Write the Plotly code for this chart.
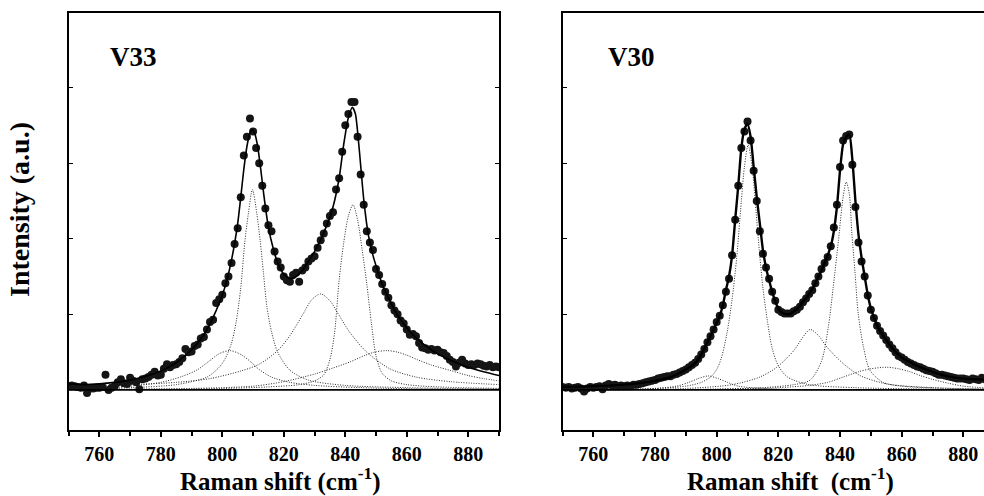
import plotly.graph_objects as go

# ---------------- data ----------------
raman_x = list(range(750, 891))

v33_data = [
    0.05, 0.06, 0.05, 0.04, 0.03, 0.06, -0.04, 0.02, 0.02, 0.03,
    0.03, 0.04, 0.20, 0.00, 0.03, 0.05, 0.10, 0.14, 0.09, 0.08,
    0.16, 0.12, 0.10, 0.01, 0.14, 0.15, 0.17, 0.20, 0.24, 0.19,
    0.20, 0.28, 0.34, 0.30, 0.33, 0.34, 0.37, 0.42, 0.54, 0.50,
    0.51, 0.58, 0.60, 0.68, 0.70, 0.80, 0.90, 0.93, 1.15, 1.20,
    1.26, 1.41, 1.50, 1.68, 1.93, 2.14, 2.55, 3.10, 3.35, 3.59,
    3.42, 3.20, 3.00, 2.70, 2.40, 2.18, 2.10, 1.83, 1.70, 1.62,
    1.50, 1.45, 1.43, 1.52, 1.55, 1.43, 1.58, 1.62, 1.70, 1.74,
    1.77, 1.88, 1.98, 2.07, 2.20, 2.30, 2.35, 2.65, 2.80, 3.15,
    3.50, 3.65, 3.81, 3.81, 3.35, 2.85, 2.45, 2.10, 1.95, 1.85,
    1.60, 1.52, 1.40, 1.30, 1.22, 1.12, 1.05, 1.00, 0.92, 0.88,
    0.80, 0.73, 0.74, 0.71, 0.62, 0.56, 0.55, 0.53, 0.54, 0.52,
    0.53, 0.50, 0.49, 0.45, 0.40, 0.37, 0.31, 0.36, 0.40, 0.35,
    0.33, 0.34, 0.33, 0.35, 0.34, 0.32, 0.31, 0.33, 0.30, 0.31, 0.30,
]

v30_data = [
    0.04, 0.03, 0.04, 0.02, 0.03, 0.04, 0.02, -0.02, 0.02, 0.04,
    0.03, 0.04, 0.05, 0.01, 0.06, 0.08, 0.06, 0.07, 0.05, 0.06,
    0.05, 0.06, 0.05, 0.07, 0.07, 0.08, 0.09, 0.10, 0.11, 0.12,
    0.13, 0.15, 0.16, 0.17, 0.18, 0.18, 0.20, 0.21, 0.23, 0.25,
    0.27, 0.30, 0.33, 0.36, 0.41, 0.47, 0.54, 0.63, 0.71, 0.80,
    0.90, 0.98, 1.12, 1.30, 1.47, 1.78, 2.25, 2.70, 3.20, 3.42,
    3.55, 3.30, 2.90, 2.50, 2.10, 1.80, 1.62, 1.47, 1.30, 1.18,
    1.06, 1.03, 1.01, 1.01, 1.01, 1.04, 1.06, 1.10, 1.16, 1.21,
    1.27, 1.32, 1.41, 1.50, 1.60, 1.68, 1.76, 1.90, 2.15, 2.45,
    2.95, 3.30, 3.36, 3.38, 2.98, 2.42, 1.95, 1.70, 1.50, 1.25,
    1.06, 0.95, 0.85, 0.78, 0.72, 0.66, 0.60, 0.55, 0.50, 0.45,
    0.43, 0.40, 0.37, 0.35, 0.33, 0.31, 0.30, 0.28, 0.26, 0.25,
    0.24, 0.22, 0.20, 0.20, 0.19, 0.18, 0.17, 0.16, 0.15, 0.15,
    0.15, 0.14, 0.13, 0.15, 0.14, 0.13, 0.16, 0.14, 0.13, 0.14, 0.13,
]

# fitted envelope (solid line)
v33_fit_x = [750, 755, 760, 765, 770, 775, 780, 785, 790, 794, 797, 799, 801, 803, 805, 806,
             807, 808, 809, 809.8, 810.5, 811.5, 812.5, 813.5, 815, 816.5, 818, 820, 822, 824,
             826, 828, 830, 832, 834, 836, 838, 839.5, 841, 842.3, 843.3, 844.5, 846, 847.5,
             849, 850.5, 852, 854, 856, 858, 860, 863, 866, 870, 875, 880, 885, 890]
v33_fit_y = [0.08, 0.07, 0.08, 0.10, 0.13, 0.18, 0.25, 0.36, 0.53, 0.73, 0.96, 1.15, 1.38, 1.72,
             2.20, 2.55, 2.92, 3.22, 3.40, 3.44, 3.40, 3.22, 2.92, 2.58, 2.15, 1.88, 1.68, 1.53,
             1.47, 1.50, 1.58, 1.70, 1.83, 1.99, 2.18, 2.42, 2.80, 3.25, 3.60, 3.74, 3.65, 3.20,
             2.52, 2.05, 1.78, 1.58, 1.40, 1.22, 1.06, 0.93, 0.82, 0.69, 0.59, 0.48, 0.38, 0.30,
             0.24, 0.19]

v30_fit_x = [750, 760, 770, 780, 785, 790, 793, 795, 797, 799, 801, 802, 803, 804, 805, 806,
             807, 808, 809, 810, 811, 812, 813, 814, 815, 816, 817, 818, 819, 820, 821, 822,
             823, 824, 825, 826, 827, 828, 829, 830, 831, 832, 833, 834, 835, 836, 837, 838,
             839, 840, 841, 842, 843, 844, 845, 846, 847, 848, 849, 850, 851, 852, 853, 855,
             857, 860, 863, 866, 870, 875, 880, 885, 890]
v30_fit_y = [0.04, 0.05, 0.07, 0.12, 0.17, 0.27, 0.35, 0.47, 0.63, 0.80, 0.98, 1.12, 1.32, 1.50,
             1.78, 2.25, 2.70, 3.20, 3.45, 3.52, 3.35, 2.95, 2.55, 2.20, 1.85, 1.62, 1.45, 1.30,
             1.17, 1.08, 1.03, 1.01, 1.00, 1.01, 1.04, 1.07, 1.11, 1.17, 1.21, 1.27, 1.33, 1.41,
             1.50, 1.58, 1.68, 1.78, 1.90, 2.10, 2.42, 2.90, 3.25, 3.35, 3.38, 3.05, 2.50, 2.05,
             1.75, 1.50, 1.26, 1.08, 0.96, 0.86, 0.78, 0.66, 0.55, 0.43, 0.36, 0.30, 0.24, 0.18,
             0.15, 0.14, 0.13]

# fitted component bands (dotted lines) - V33
v33_c1_x = [750, 770, 785, 795, 799, 801, 803, 804.5, 806, 807.3, 808.5, 809.8, 811.2, 812.3,
            813.4, 814.5, 816, 818, 822, 828, 840, 860, 890]
v33_c1_y = [0.01, 0.03, 0.07, 0.17, 0.30, 0.42, 0.62, 0.90, 1.35, 1.95, 2.34, 2.65, 2.34, 1.98,
            1.54, 1.10, 0.77, 0.50, 0.26, 0.13, 0.06, 0.03, 0.01]
v33_c2_x = [750, 800, 815, 825, 830, 833, 835, 836.5, 838, 839.5, 841, 842.5, 844, 845.5, 847,
            848.5, 850, 852, 855, 860, 870, 890]
v33_c2_y = [0.00, 0.02, 0.04, 0.07, 0.12, 0.20, 0.40, 0.75, 1.45, 1.95, 2.30, 2.45, 2.25, 1.85,
            1.40, 0.88, 0.45, 0.22, 0.12, 0.07, 0.04, 0.02]
v33_c3_x = [750, 770, 785, 796, 806, 812, 818, 822, 826.5, 829, 832, 835, 837.5, 841.5, 847,
            854.5, 863, 874, 890]
v33_c3_y = [0.05, 0.07, 0.10, 0.15, 0.25, 0.34, 0.52, 0.72, 1.02, 1.19, 1.27, 1.18, 1.02, 0.76,
            0.50, 0.28, 0.17, 0.11, 0.07]
v33_c4_x = [750, 770, 780, 787, 792, 796, 799, 802.5, 806, 809, 812, 816, 822, 830, 845, 870, 890]
v33_c4_y = [0.01, 0.05, 0.10, 0.18, 0.27, 0.39, 0.48, 0.52, 0.47, 0.38, 0.27, 0.17, 0.10, 0.06,
            0.03, 0.01, 0.01]
v33_c5_x = [750, 790, 810, 820, 830, 836, 841.5, 846, 849.5, 853.5, 857, 860, 863.5, 868, 874,
            880, 885, 890]
v33_c5_y = [0.005, 0.02, 0.05, 0.11, 0.21, 0.29, 0.37, 0.45, 0.50, 0.52, 0.50, 0.46, 0.40, 0.33,
            0.26, 0.19, 0.15, 0.12]

# fitted component bands (dotted lines) - V30
v30_c1_x = [750, 775, 790, 795, 798, 800, 801.5, 803.3, 805, 806.5, 808, 809, 810.2, 811.5,
            812.5, 813.5, 815, 816.5, 818, 820, 823, 830, 845, 870, 890]
v30_c1_y = [0.00, 0.01, 0.05, 0.10, 0.17, 0.27, 0.42, 0.74, 1.20, 1.75, 2.50, 2.95, 3.24, 2.95,
            2.50, 2.00, 1.35, 0.90, 0.55, 0.32, 0.17, 0.07, 0.03, 0.01, 0.00]
v30_c2_x = [750, 800, 815, 825, 830.3, 834, 836.2, 837.8, 839.5, 841, 842, 843, 843.8, 844.9,
            845.9, 847.6, 849.7, 854, 860, 875, 890]
v30_c2_y = [0.00, 0.01, 0.03, 0.07, 0.13, 0.38, 0.83, 1.36, 1.98, 2.55, 2.75, 2.60, 2.10, 1.54,
            1.01, 0.57, 0.26, 0.10, 0.05, 0.02, 0.01]
v30_c3_x = [750, 790, 805, 814, 819.5, 825, 828, 830.3, 833, 835.7, 841, 846.5, 855, 870, 890]
v30_c3_y = [0.00, 0.02, 0.07, 0.17, 0.30, 0.52, 0.70, 0.80, 0.72, 0.57, 0.35, 0.19, 0.08, 0.03, 0.01]
v30_c4_x = [750, 780, 787, 791, 794, 797.3, 800.5, 803.5, 807, 815, 830, 890]
v30_c4_y = [0.00, 0.02, 0.05, 0.10, 0.15, 0.185, 0.15, 0.10, 0.05, 0.02, 0.00, 0.00]
v30_c5_x = [750, 800, 820, 830, 836, 841, 846, 850, 855.2, 859, 862.7, 866, 870, 875, 880, 890]
v30_c5_y = [0.00, 0.01, 0.03, 0.06, 0.10, 0.17, 0.24, 0.28, 0.30, 0.28, 0.24, 0.19, 0.14, 0.09,
            0.05, 0.02]

x_tick_vals = [760, 780, 800, 820, 840, 860, 880]
x_tick_text = ["760", "780", "800", "820", "840", "860", "880"]
x_minor_vals = [750, 770, 790, 810, 830, 850, 870, 890]
y_tick_vals = [0, 1, 2, 3, 4]
baseline_level = 0

panel_labels = ["V33", "V30"]
x_titles = ["Raman shift (cm<sup>-1</sup>)", "Raman shift&nbsp;&nbsp;(cm<sup>-1</sup>)"]
y_title = "Intensity (a.u.)"

# ---------------- figure ----------------
FONT = "Liberation Serif"
W, H = 984, 496

fig = go.Figure()

panels = [
    dict(xa="x", ya="y", data=v33_data, fx=v33_fit_x, fy=v33_fit_y, fw=1.6,
         comps=[(v33_c1_x, v33_c1_y), (v33_c2_x, v33_c2_y), (v33_c3_x, v33_c3_y),
                (v33_c4_x, v33_c4_y), (v33_c5_x, v33_c5_y)]),
    dict(xa="x2", ya="y2", data=v30_data, fx=v30_fit_x, fy=v30_fit_y, fw=2.4,
         comps=[(v30_c1_x, v30_c1_y), (v30_c2_x, v30_c2_y), (v30_c3_x, v30_c3_y),
                (v30_c4_x, v30_c4_y), (v30_c5_x, v30_c5_y)]),
]

for p in panels:
    for cx, cy in p["comps"]:
        fig.add_trace(go.Scatter(x=cx, y=cy, mode="lines", xaxis=p["xa"], yaxis=p["ya"],
                                 line=dict(color="#2a2a2a", width=1, dash="1px,1.5px",
                                           shape="spline", smoothing=0.8),
                                 showlegend=False, hoverinfo="skip"))
    fig.add_trace(go.Scatter(x=raman_x, y=p["data"], mode="markers", xaxis=p["xa"], yaxis=p["ya"],
                             marker=dict(color="#151515", size=8),
                             showlegend=False))
    fig.add_trace(go.Scatter(x=p["fx"], y=p["fy"], mode="lines", xaxis=p["xa"], yaxis=p["ya"],
                             line=dict(color="#000000", width=p["fw"], shape="spline", smoothing=0.6),
                             showlegend=False))
    fig.add_trace(go.Scatter(x=[raman_x[0], raman_x[-1]], y=[baseline_level, baseline_level],
                             mode="lines", xaxis=p["xa"], yaxis=p["ya"],
                             line=dict(color="#000000", width=1.8),
                             showlegend=False, hoverinfo="skip"))

tick_font = dict(family=FONT, size=20, color="black", weight="bold")

def xaxis_style(domain, rng):
    return dict(domain=domain, range=rng, tickvals=x_tick_vals,
                ticktext=["<b>" + t + "</b>" for t in x_tick_text],
                ticks="outside", ticklen=5, tickwidth=1.5, tickcolor="black",
                minor=dict(tickvals=x_minor_vals,
                           ticks="outside", ticklen=4, tickwidth=1.5, tickcolor="black"),
                showline=True, linewidth=2, linecolor="black", mirror=True,
                showgrid=False, zeroline=False, tickfont=tick_font, automargin=False)

def yaxis_style(domain, mirror):
    return dict(domain=domain, range=[-0.53, 4.99], tickvals=y_tick_vals,
                ticks="inside", ticklen=4, tickwidth=1.2, tickcolor="black",
                showticklabels=False, showline=True, linewidth=2, linecolor="black",
                mirror=mirror, showgrid=False, zeroline=False, automargin=False)

ydom = [1 - 430 / H, 1 - 12.7 / H]
fig.update_layout(
    width=W, height=H,
    margin=dict(l=0, r=0, t=0, b=0),
    paper_bgcolor="white", plot_bgcolor="white",
    xaxis=xaxis_style([68.6 / W, 499 / W], [750, 890]),
    yaxis=yaxis_style(ydom, "ticks"),
    xaxis2=dict(xaxis_style([562.5 / W, 1.0], [750, 886.7]), anchor="y2"),
    yaxis2=dict(yaxis_style(ydom, False), anchor="x2"),
    showlegend=False,
)

def bold(s):
    return "<b>" + s + "</b>"

title_font = dict(family=FONT, size=25, color="black")
label_font = dict(family=FONT, size=27, color="black")
ann = [
    dict(text=bold(panel_labels[0]), x=133 / W, y=1 - 57 / H, font=label_font),
    dict(text=bold(panel_labels[1]), x=631 / W, y=1 - 57 / H, font=label_font),
    dict(text=bold(x_titles[0]), x=280 / W, y=1 - 479 / H, font=title_font),
    dict(text=bold(x_titles[1]), x=790 / W, y=1 - 479 / H, font=title_font),
    dict(text=bold(y_title), x=20 / W, y=1 - 210 / H, textangle=-90,
         font=dict(family=FONT, size=28, color="black")),
]
for a in ann:
    a.update(xref="paper", yref="paper", xanchor="center", yanchor="middle", showarrow=False)
fig.update_layout(annotations=ann)

fig.write_html("out.html")
